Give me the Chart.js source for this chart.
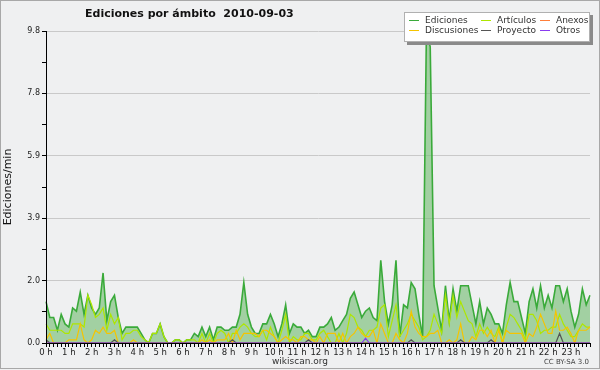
<!DOCTYPE html>
<html>
<head>
<meta charset="utf-8">
<script src="https://cdn.jsdelivr.net/npm/chart.js@4.4.3/dist/chart.umd.min.js"></script>
<style>
  html, body { margin: 0; padding: 0; background: #eff0f1; }
  #wrap { position: relative; width: 600px; height: 370px; background: #eff0f1; overflow: hidden; font-family: "DejaVu Sans", sans-serif; }
  #wrap canvas { position: absolute; left: 0; top: 0; }
  #frame { position: absolute; left: 0; top: 0; width: 598px; height: 367px; border: 1px solid #a8a8a8; pointer-events: none; }
  #title { position: absolute; left: 85px; top: 7px; font: bold 11px "DejaVu Sans", sans-serif; color: #111; white-space: pre; }
  #legend { position: absolute; left: 404px; top: 12px; width: 184px; height: 28px; background: #fff; border: 1px solid #b0b0b0; box-shadow: 3px 3px 0 #8a8a8a; }
  .item { position: absolute; font-size: 9px; line-height: 10px; color: #333; white-space: nowrap; }
  .item i { position: absolute; left: 0; top: 5px; width: 10px; height: 1px; }
  .item span { position: absolute; left: 16px; top: 0; }
  #site { position: absolute; left: 0; width: 600px; top: 356px; text-align: center; font-size: 9px; color: #333; }
  #lic { position: absolute; right: 11px; top: 358px; font-size: 7px; color: #444; }
</style>
</head>
<body>
<div id="wrap">
  <canvas id="chart" width="600" height="370"></canvas>
  <div id="title">Ediciones por ámbito  2010-09-03</div>
  <div id="legend"></div>
  <div id="site">wikiscan.org</div>
  <div id="lic">CC BY-SA 3.0</div>
  <div id="frame"></div>
</div>
<script>
// 10-minute slots, 0:00 .. 23:50
const hourLabels = ['0 h', '1 h', '2 h', '3 h', '4 h', '5 h', '6 h', '7 h', '8 h', '9 h', '10 h', '11 h',
  '12 h', '13 h', '14 h', '15 h', '16 h', '17 h', '18 h', '19 h', '20 h', '21 h', '22 h', '23 h'];

const seriesNames = ['Ediciones', 'Artículos', 'Anexos', 'Discusiones', 'Proyecto', 'Otros'];
const seriesColors = ['#3aaa3a', '#aee600', '#ff7f3a', '#f5c400', '#555555', '#8a3cf0'];

const ediciones = [
  1.3, 0.8, 0.8, 0.4, 0.9, 0.6, 0.5, 1.1, 1.0, 1.6,
  0.9, 1.5, 1.1, 0.9, 1.1, 2.2, 0.7, 1.3, 1.5, 0.8,
  0.3, 0.5, 0.5, 0.5, 0.5, 0.3, 0.1, 0, 0.3, 0.3,
  0.6, 0.2, 0, 0, 0.1, 0.1, 0, 0.1, 0.1, 0.3,
  0.2, 0.5, 0.2, 0.5, 0.1, 0.5, 0.5, 0.4, 0.4, 0.5,
  0.5, 0.9, 1.9, 0.9, 0.5, 0.3, 0.3, 0.6, 0.6, 0.9,
  0.6, 0.2, 0.6, 1.2, 0.3, 0.6, 0.5, 0.5, 0.3, 0.4,
  0.2, 0.2, 0.5, 0.5, 0.6, 0.8, 0.4, 0.5, 0.7, 0.9,
  1.4, 1.6, 1.2, 0.8, 1.0, 1.1, 0.8, 0.7, 2.6, 1.3,
  0.6, 1.2, 2.6, 0.2, 1.2, 1.1, 1.9, 1.7, 0.9, 0.2,
  9.8, 9.3, 1.8, 1.1, 0.4, 1.8, 0.7, 1.7, 1.0, 1.8,
  1.8, 1.8, 1.2, 0.6, 1.3, 0.6, 1.1, 0.9, 0.6, 0.6,
  0.3, 1.2, 1.9, 1.3, 1.3, 0.8, 0.3, 1.3, 1.7, 1.1,
  1.8, 1.1, 1.5, 1.1, 1.8, 1.8, 1.3, 1.7, 1.0, 0.5,
  0.9, 1.7, 1.2, 1.5
];

const articulos = [
  0.6, 0.4, 0.4, 0.4, 0.4, 0.3, 0.3, 0.6, 0.6, 0.6,
  0.5, 1.5, 1.2, 0.8, 0.9, 1.1, 0.4, 0.9, 0.6, 0.8,
  0.1, 0.3, 0.3, 0.4, 0.4, 0.2, 0.1, 0, 0.3, 0.3,
  0.6, 0.2, 0, 0, 0.1, 0.1, 0, 0.1, 0.1, 0.1,
  0, 0.3, 0, 0.3, 0, 0.3, 0.4, 0.3, 0, 0.3,
  0.3, 0.5, 0.6, 0.5, 0.3, 0.2, 0.2, 0.4, 0.1, 0.5,
  0.2, 0, 0.4, 0.9, 0, 0.2, 0.1, 0.1, 0.3, 0.3,
  0.1, 0.1, 0.3, 0.4, 0.2, 0, 0, 0.3, 0, 0.3,
  0.9, 0.8, 0.5, 0.4, 0.2, 0.4, 0.4, 0.5, 1.1, 1.2,
  0.2, 0.7, 1.2, 0.2, 0.4, 0.6, 0.9, 0.7, 0.5, 0.1,
  0.2, 0.4, 0.9, 0.6, 0.3, 1.5, 0.6, 1.5, 0.8, 1.3,
  1.0, 0.7, 0.6, 0.2, 0.6, 0.3, 0.5, 0.3, 0.2, 0.5,
  0, 0.5, 0.9, 0.8, 0.6, 0.4, 0.1, 0.9, 0.9, 0.7,
  0.3, 0.4, 0.4, 0.5, 0.5, 0.9, 0.6, 0.4, 0.2, 0.2,
  0.4, 0.6, 0.5, 0.5
];

const anexos = [
  0, 0, 0, 0, 0, 0, 0, 0, 0, 0,
  0, 0, 0, 0, 0, 0, 0, 0, 0, 0,
  0, 0, 0, 0, 0, 0, 0, 0, 0, 0,
  0, 0, 0, 0, 0, 0, 0, 0, 0, 0,
  0, 0, 0, 0, 0, 0, 0, 0, 0, 0,
  0, 0, 0, 0, 0, 0, 0, 0, 0, 0,
  0, 0, 0, 0, 0, 0, 0, 0, 0, 0,
  0, 0, 0, 0, 0, 0, 0, 0, 0, 0,
  0, 0, 0, 0, 0, 0, 0, 0, 0, 0,
  0, 0, 0, 0, 0, 0, 0, 0, 0, 0,
  0, 0, 0, 0, 0, 0, 0, 0, 0, 0,
  0, 0, 0, 0, 0, 0, 0, 0, 0, 0,
  0, 0, 0, 0, 0, 0, 0, 0, 0, 0,
  0, 0, 0, 0, 0, 0, 0, 0, 0, 0,
  0, 0, 0, 0
];

const discusiones = [
  0.1, 0.3, 0, 0, 0, 0, 0.1, 0.1, 0.1, 0.6,
  0.1, 0, 0.1, 0.4, 0.3, 0.5, 0.3, 0.3, 0.4, 0,
  0, 0, 0, 0.1, 0, 0, 0, 0, 0, 0,
  0, 0, 0, 0, 0, 0, 0, 0, 0, 0,
  0, 0.1, 0, 0.1, 0, 0.1, 0.1, 0.1, 0.3, 0,
  0.4, 0.1, 0.3, 0.3, 0.3, 0.3, 0.2, 0.4, 0.4, 0.3,
  0.2, 0, 0.1, 0.2, 0.1, 0.1, 0, 0.2, 0.2, 0.1,
  0.1, 0, 0.2, 0, 0.3, 0.3, 0.3, 0, 0.3, 0,
  0.2, 0.3, 0.5, 0.3, 0.2, 0.2, 0.4, 0, 0.6, 0.3,
  0, 0, 0.3, 0.1, 0, 0.3, 1.0, 0.5, 0.3, 0.2,
  0.2, 0.3, 0.3, 0.4, 0, 0, 0.1, 0, 0.1, 0.6,
  0, 0, 0.2, 0.1, 0.4, 0.4, 0.2, 0.4, 0, 0.4,
  0, 0.4, 0.3, 0.3, 0.3, 0.3, 0, 0.3, 0.2, 0.5,
  0.9, 0.6, 0.3, 0.3, 1.0, 0.4, 0.4, 0.5, 0.3, 0,
  0.4, 0.4, 0.4, 0.5
];

const proyecto = [
  0.1, 0, 0, 0, 0, 0, 0, 0, 0, 0,
  0, 0, 0, 0, 0, 0, 0, 0, 0.1, 0,
  0, 0, 0, 0, 0, 0, 0, 0, 0, 0,
  0, 0, 0, 0, 0, 0, 0, 0, 0, 0,
  0, 0, 0, 0, 0, 0, 0, 0, 0, 0.1,
  0, 0, 0, 0, 0, 0, 0, 0, 0, 0,
  0, 0, 0, 0, 0, 0, 0, 0, 0, 0.1,
  0, 0, 0, 0, 0, 0, 0, 0, 0, 0,
  0, 0, 0, 0, 0, 0, 0, 0, 0, 0,
  0, 0, 0, 0, 0, 0, 0.1, 0, 0, 0,
  0, 0, 0, 0, 0, 0, 0, 0, 0, 0.1,
  0, 0, 0, 0, 0, 0, 0, 0.1, 0, 0,
  0, 0, 0, 0, 0, 0, 0, 0, 0, 0,
  0, 0, 0, 0, 0, 0.3, 0, 0, 0, 0,
  0, 0, 0, 0
];

const otros = [
  0, 0, 0, 0, 0, 0, 0, 0, 0, 0,
  0, 0, 0, 0, 0, 0, 0, 0, 0, 0,
  0, 0, 0, 0, 0, 0, 0, 0, 0, 0,
  0, 0, 0, 0, 0, 0, 0, 0, 0, 0,
  0, 0, 0, 0, 0, 0, 0, 0, 0, 0,
  0, 0, 0, 0, 0, 0, 0, 0, 0, 0,
  0, 0, 0, 0, 0, 0, 0, 0, 0, 0,
  0, 0, 0, 0, 0, 0, 0, 0, 0, 0,
  0, 0, 0, 0, 0.15, 0, 0, 0, 0, 0,
  0, 0, 0, 0, 0, 0, 0, 0, 0, 0,
  0, 0, 0, 0, 0, 0, 0, 0, 0, 0,
  0, 0, 0, 0, 0, 0, 0, 0, 0, 0,
  0, 0, 0, 0, 0, 0, 0, 0, 0, 0,
  0, 0, 0, 0, 0, 0, 0, 0, 0, 0,
  0, 0, 0, 0
];

const slots = ediciones.map((_, i) => i);
const seriesData = [ediciones, articulos, anexos, discusiones, proyecto, otros];

// legend, 3 columns x 2 rows, same order as the picture
const legendCols = [4, 76, 135];
const legend = document.getElementById('legend');
seriesNames.forEach((name, i) => {
  const el = document.createElement('div');
  el.className = 'item';
  el.style.left = legendCols[i % 3] + 'px';
  el.style.top = (2 + Math.floor(i / 3) * 10) + 'px';
  el.innerHTML = '<i style="background:' + seriesColors[i] + '"></i><span>' + name + '</span>';
  legend.appendChild(el);
});

const datasets = seriesData.map((data, i) => ({
  label: seriesNames[i],
  data,
  borderColor: seriesColors[i],
  borderWidth: i === 0 ? 1.6 : 1.2,
  backgroundColor: i === 0 ? 'rgba(120,190,120,0.65)' : seriesColors[i],
  fill: i === 0 ? 'origin' : false,
  order: 6 - i,
  pointRadius: 0,
  tension: 0,
}));

const tickFont = { family: '"DejaVu Sans", sans-serif', size: 8 };

new Chart(document.getElementById('chart'), {
  type: 'line',
  data: { labels: slots, datasets },
  options: {
    responsive: false,
    animation: false,
    layout: { padding: { left: 2, top: 31, right: 10, bottom: 0 } },
    plugins: { legend: { display: false }, tooltip: { enabled: false } },
    scales: {
      x: {
        type: 'category',
        offset: false,
        border: { color: '#000', z: 1 },
        grid: { offset: false, drawOnChartArea: false, tickLength: 4, tickColor: '#000' },
        ticks: {
          autoSkip: false,
          maxRotation: 0,
          padding: 1,
          color: '#222',
          font: { family: '"DejaVu Sans", sans-serif', size: 8.5 },
          callback: (v, i) => (i % 6 === 0 ? hourLabels[i / 6] : ''),
        },
        afterFit: (s) => { s.height = 27; },
      },
      y: {
        min: 0,
        max: 9.8,
        border: { color: '#000', z: 1 },
        grid: {
          color: (c) => (c.index % 2 === 0 ? '#c9c9c9' : 'rgba(0,0,0,0)'),
          tickColor: '#000',
          tickLength: 4,
        },
        ticks: {
          stepSize: 0.98,
          padding: 2,
          color: '#222',
          font: tickFont,
          callback: (v, i) => (i % 2 === 0 ? Number(v).toFixed(1) : ''),
        },
        title: { display: true, text: 'Ediciones/min', color: '#111', font: { family: '"DejaVu Sans", sans-serif', size: 11 }, padding: 0 },
        afterFit: (s) => { s.width = 44; },
      },
    },
  },
});
</script>
</body>
</html>
